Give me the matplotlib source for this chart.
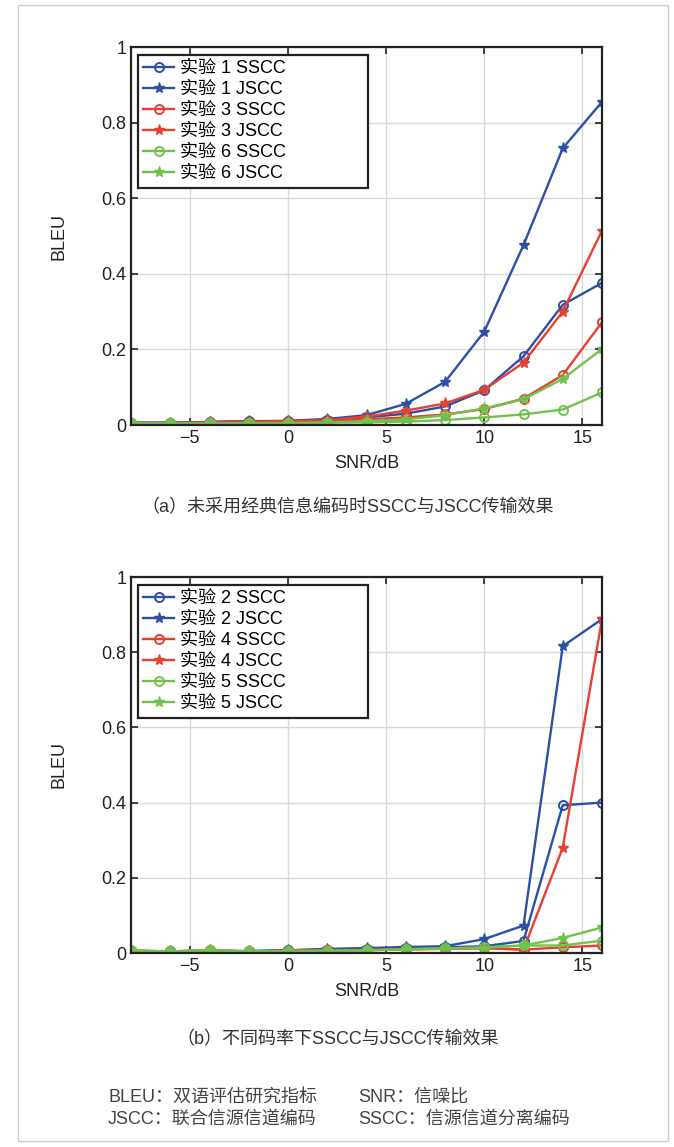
import matplotlib
matplotlib.use('Agg')
import matplotlib.pyplot as plt
from matplotlib.patches import Rectangle

plt.rcParams['font.family'] = ['Liberation Sans', 'Noto Sans CJK SC', 'DejaVu Sans']

# SNR (dB)
snr = [-8, -6, -4, -2, 0, 2, 4, 6, 8, 10, 12, 14, 16]

# (a) experiments 1, 3, 6
exp1_sscc = [0.006, 0.006, 0.008, 0.010, 0.010, 0.014, 0.020, 0.030, 0.049, 0.092, 0.182, 0.318, 0.376]
exp1_jscc = [0.006, 0.006, 0.008, 0.010, 0.011, 0.016, 0.026, 0.056, 0.114, 0.247, 0.476, 0.732, 0.855]
exp3_sscc = [0.005, 0.005, 0.006, 0.008, 0.009, 0.011, 0.015, 0.020, 0.028, 0.042, 0.070, 0.132, 0.272]
exp3_jscc = [0.005, 0.005, 0.007, 0.009, 0.010, 0.013, 0.022, 0.038, 0.057, 0.093, 0.165, 0.300, 0.514]
exp6_sscc = [0.004, 0.004, 0.004, 0.004, 0.005, 0.006, 0.007, 0.009, 0.013, 0.020, 0.028, 0.041, 0.086]
exp6_jscc = [0.004, 0.004, 0.004, 0.005, 0.005, 0.007, 0.010, 0.015, 0.026, 0.044, 0.068, 0.122, 0.201]

# (b) experiments 2, 4, 5
exp2_sscc = [0.005, 0.004, 0.005, 0.005, 0.007, 0.009, 0.011, 0.013, 0.015, 0.018, 0.032, 0.393, 0.400]
exp2_jscc = [0.005, 0.004, 0.006, 0.005, 0.007, 0.011, 0.013, 0.016, 0.018, 0.037, 0.073, 0.816, 0.888]
exp4_sscc = [0.006, 0.004, 0.007, 0.004, 0.006, 0.007, 0.008, 0.010, 0.011, 0.013, 0.009, 0.015, 0.020]
exp4_jscc = [0.006, 0.004, 0.008, 0.004, 0.006, 0.007, 0.008, 0.010, 0.011, 0.013, 0.009, 0.280, 0.888]
exp5_sscc = [0.007, 0.004, 0.007, 0.004, 0.005, 0.006, 0.007, 0.010, 0.012, 0.015, 0.020, 0.020, 0.033]
exp5_jscc = [0.007, 0.004, 0.008, 0.004, 0.005, 0.006, 0.007, 0.010, 0.012, 0.014, 0.020, 0.040, 0.068]

labels_a = ['实验 1 SSCC', '实验 1 JSCC', '实验 3 SSCC', '实验 3 JSCC', '实验 6 SSCC', '实验 6 JSCC']
labels_b = ['实验 2 SSCC', '实验 2 JSCC', '实验 4 SSCC', '实验 4 JSCC', '实验 5 SSCC', '实验 5 JSCC']
caption_a = '（a）未采用经典信息编码时SSCC与JSCC传输效果'
caption_b = '（b）不同码率下SSCC与JSCC传输效果'

blue = '#2e4fa6'
red = '#e8402f'
green = '#6fc24c'
colors = [blue, blue, red, red, green, green]
markers = ['o', '*', 'o', '*', 'o', '*']

W, H = 674, 1147
fig = plt.figure(figsize=(W / 100, H / 100), dpi=100)
fig.patches.append(Rectangle((18 / W, 1 - 1141 / H), 650 / W, 1136 / H,
                             transform=fig.transFigure, fill=False,
                             edgecolor='#cccccc', linewidth=1.0))


def draw_panel(ax, series, labels):
    for y, lab, c, m in zip(series, labels, colors, markers):
        if m == 'o':
            ax.plot(snr, y, color=c, marker='o', markersize=6.5, markerfacecolor='none',
                    markeredgewidth=1.4, linewidth=1.7, label=lab)
        else:
            ax.plot(snr, y, color=c, marker='*', markersize=8, linewidth=1.7, label=lab)
    ax.set_xlim(-8, 16)
    ax.set_ylim(0, 1)
    ax.set_xticks([-5, 0, 5, 10, 15])
    ax.set_yticks([0, 0.2, 0.4, 0.6, 0.8, 1])
    ax.set_yticklabels(['0', '0.2', '0.4', '0.6', '0.8', '1'])
    ax.grid(True, color='#d8d8d8', linewidth=1.0)
    ax.tick_params(direction='in', top=True, right=True, length=5, width=1.2,
                   labelsize=13, colors='#222222')
    for s in ax.spines.values():
        s.set_linewidth(1.6)
        s.set_color('#222222')
    ax.set_xlabel('SNR/dB', fontsize=13, color='#222222', labelpad=6)
    ax.set_ylabel('BLEU', fontsize=13, color='#222222', labelpad=24)
    # MATLAB-like wide legend box
    leg = ax.legend(loc='upper left', bbox_to_anchor=(0.015, 0.6, 0.488, 0.379),
                    mode='expand', borderaxespad=0, fontsize=13, frameon=True,
                    fancybox=False, handlelength=1.7, labelspacing=0.22,
                    borderpad=0.3, handletextpad=0.35)
    leg.get_frame().set_edgecolor('#222222')
    leg.get_frame().set_linewidth(1.6)
    leg.get_frame().set_alpha(1)


ax1 = fig.add_axes([131 / W, 1 - 425 / H, 471 / W, 378 / H])
draw_panel(ax1, [exp1_sscc, exp1_jscc, exp3_sscc, exp3_jscc, exp6_sscc, exp6_jscc], labels_a)

ax2 = fig.add_axes([131 / W, 1 - 953 / H, 471 / W, 376 / H])
draw_panel(ax2, [exp2_sscc, exp2_jscc, exp4_sscc, exp4_jscc, exp5_sscc, exp5_jscc], labels_b)

fig.text(348 / W, 1 - 508 / H, caption_a, ha='center', va='center', fontsize=13, color='#333333')
fig.text(338 / W, 1 - 1040 / H, caption_b, ha='center', va='center', fontsize=13, color='#333333')

fig.text(108 / W, 1 - 1097 / H, 'BLEU：双语评估研究指标', ha='left', va='center', fontsize=13, color='#444444')
fig.text(358 / W, 1 - 1097 / H, 'SNR：信噪比', ha='left', va='center', fontsize=13, color='#444444')
fig.text(108 / W, 1 - 1119 / H, 'JSCC：联合信源信道编码', ha='left', va='center', fontsize=13, color='#444444')
fig.text(358 / W, 1 - 1119 / H, 'SSCC：信源信道分离编码', ha='left', va='center', fontsize=13, color='#444444')

fig.savefig('out.png', dpi=100)
